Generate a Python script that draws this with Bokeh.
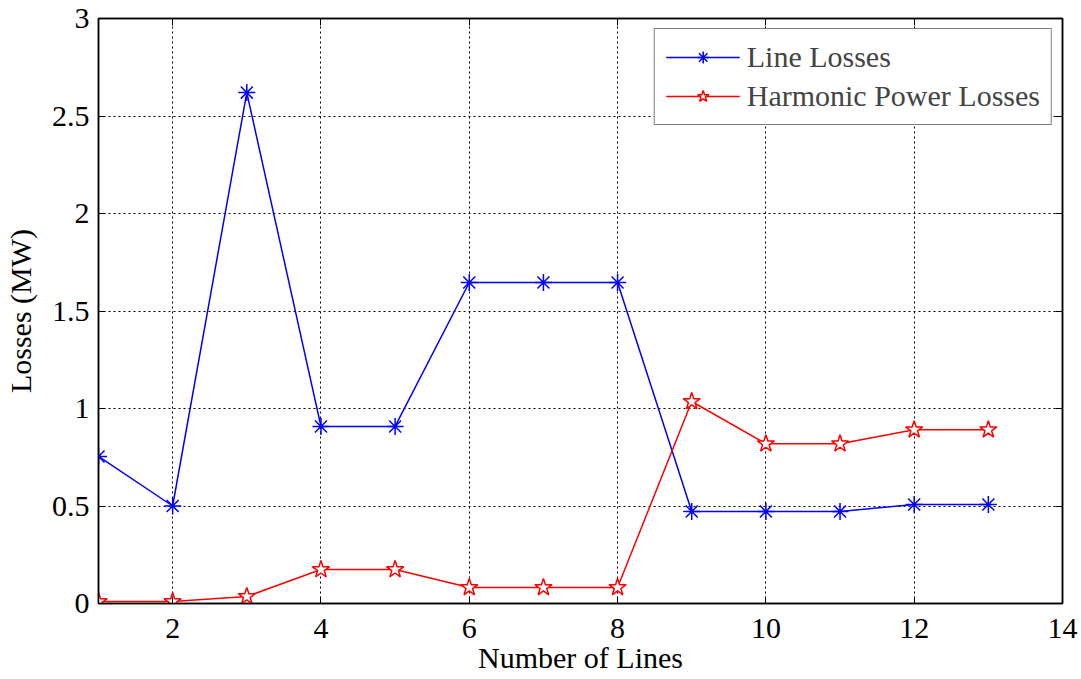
from bokeh.plotting import figure
from bokeh.models import FixedTicker, LinearAxis, Range1d, Legend, LegendItem
from bokeh.embed import file_html
from bokeh.resources import INLINE

lines = [1, 2, 3, 4, 5, 6, 7, 8, 9, 10, 11, 12, 13]
line_losses = [0.754, 0.50, 2.62, 0.908, 0.908, 1.646, 1.646, 1.646, 0.472, 0.472, 0.472, 0.508, 0.508]
harmonic_losses = [0.01, 0.01, 0.036, 0.174, 0.174, 0.082, 0.082, 0.082, 1.036, 0.819, 0.819, 0.891, 0.891]
x_ticks = [2, 4, 6, 8, 10, 12, 14]
y_ticks = [0, 0.5, 1, 1.5, 2, 2.5, 3]
y_labels = {0: "0", 0.5: "0.5", 1: "1", 1.5: "1.5", 2: "2", 2.5: "2.5", 3: "3"}

FONT = "Liberation Serif"
FS = "30px"

p = figure(width=1081, height=679, output_backend="svg", toolbar_location=None,
           x_range=Range1d(1, 14), y_range=Range1d(0, 3),
           min_border_left=96, min_border_right=19, min_border_top=18, min_border_bottom=76)

p.outline_line_color = "black"
p.outline_line_width = 1.5

for ax in [p.xaxis[0], p.yaxis[0]]:
    ax.axis_line_color = "black"
    ax.axis_line_width = 1.5
    ax.major_tick_in = 7
    ax.major_tick_out = 0
    ax.minor_tick_line_color = None
    ax.major_label_text_font = FONT
    ax.major_label_text_font_size = FS
    ax.major_label_text_color = "black"
    ax.axis_label_text_font = FONT
    ax.axis_label_text_font_size = FS
    ax.axis_label_text_font_style = "normal"
    ax.axis_label_text_color = "black"

p.xaxis.ticker = FixedTicker(ticks=x_ticks)
p.yaxis.ticker = FixedTicker(ticks=y_ticks)
p.yaxis.major_label_overrides = y_labels
p.xaxis.axis_label = "Number of Lines"
p.yaxis.axis_label = "Losses (MW)"
p.xaxis.axis_label_standoff = 0
p.yaxis.axis_label_standoff = 12
p.xaxis.major_label_standoff = 15
p.yaxis.major_label_standoff = 9

# mirrored axes (box)
top = LinearAxis(ticker=FixedTicker(ticks=x_ticks), major_label_text_font_size="0px",
                 major_tick_in=7, major_tick_out=0, minor_tick_line_color=None,
                 axis_line_width=1.5)
right = LinearAxis(ticker=FixedTicker(ticks=y_ticks), major_label_text_font_size="0px",
                   major_tick_in=7, major_tick_out=0, minor_tick_line_color=None,
                   axis_line_width=1.5)
top.major_label_text_color = None
right.major_label_text_color = None
p.add_layout(top, "above")
p.add_layout(right, "right")

for g in [p.xgrid[0], p.ygrid[0]]:
    g.grid_line_color = "black"
    g.grid_line_dash = "2 3"
    g.grid_line_width = 1
    g.grid_line_alpha = 1.0
p.xgrid.ticker = FixedTicker(ticks=x_ticks)
p.ygrid.ticker = FixedTicker(ticks=y_ticks)

l1 = p.line(lines, line_losses, line_color="blue", line_width=1.5)
m1 = p.scatter(lines, line_losses, marker="asterisk", size=17, line_color="blue", line_width=1.5)
l2 = p.line(lines, harmonic_losses, line_color="red", line_width=1.5)
m2 = p.scatter(lines, harmonic_losses, marker="star", size=18, line_color="red",
               fill_color="white", line_width=1.5)

legend = Legend(items=[LegendItem(label="Line Losses", renderers=[l1, m1]),
                       LegendItem(label="Harmonic Power Losses", renderers=[l2, m2])],
                location="top_right")
legend.margin = 10
legend.border_line_color = "black"
legend.border_line_width = 1.5
legend.background_fill_alpha = 1.0
legend.label_text_font = FONT
legend.label_text_font_size = FS
legend.glyph_width = 74
legend.glyph_height = 30
legend.label_height = 30
legend.spacing = 5
legend.padding = 11
legend.label_standoff = 7
p.add_layout(legend, "center")

open("out.html", "w").write(file_html(p, INLINE))
